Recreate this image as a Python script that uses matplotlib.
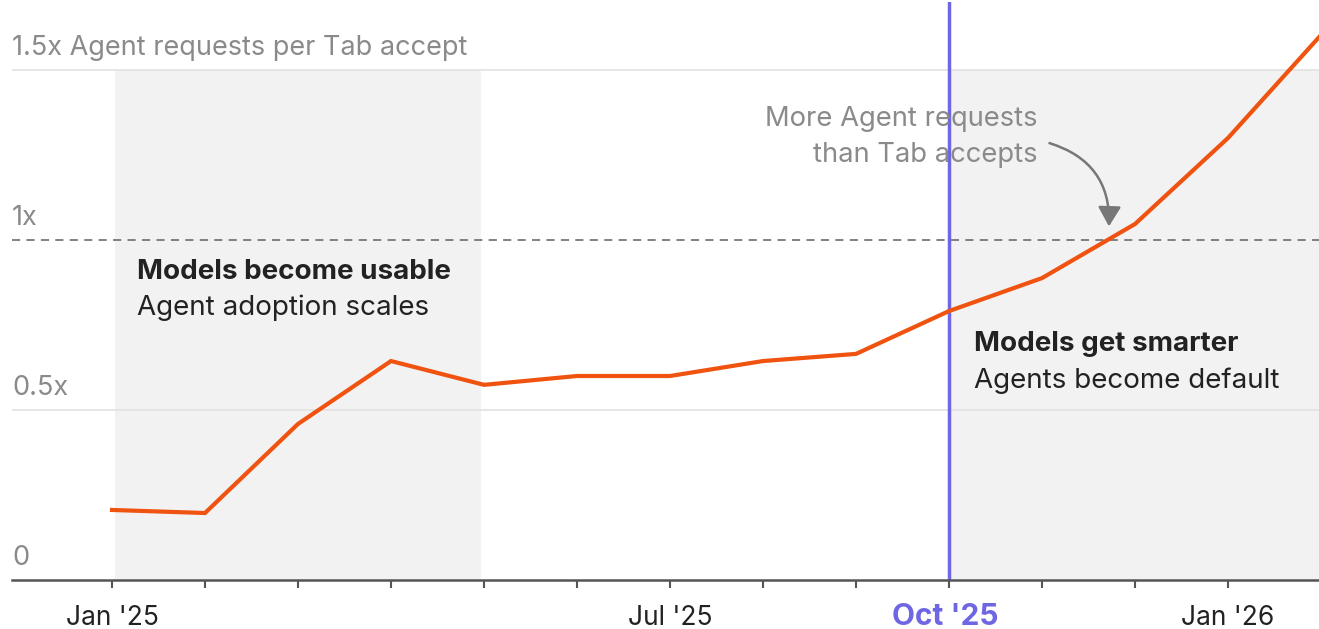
import matplotlib
matplotlib.use("Agg")
import matplotlib.pyplot as plt
from matplotlib.patches import FancyArrowPatch

plt.rcParams['font.family'] = ['Inter', 'DejaVu Sans']

months = ["Jan '25", "Feb '25", "Mar '25", "Apr '25", "May '25", "Jun '25", "Jul '25",
          "Aug '25", "Sep '25", "Oct '25", "Nov '25", "Dec '25", "Jan '26", "Feb '26"]
ratio = [0.206, 0.197, 0.459, 0.644, 0.574, 0.600, 0.600,
         0.644, 0.665, 0.791, 0.888, 1.047, 1.300, 1.603]
tick_labels = {0: "Jan '25", 6: "Jul '25", 12: "Jan '26"}
highlight_label = (9, "Oct '25")
y_labels = {0: "0", 0.5: "0.5x", 1.0: "1x", 1.5: "1.5x Agent requests per Tab accept"}

W, H = 1319, 629
fig = plt.figure(figsize=(W / 100, H / 100), dpi=100)
ax_left, ax_right, ax_top, ax_bottom = 12, 1319, 2, 580
ax = fig.add_axes([ax_left / W, (H - ax_bottom) / H, (ax_right - ax_left) / W, (ax_bottom - ax_top) / H])

x = list(range(len(months)))
px_per_month = 93.0
xmin = -(112 - ax_left) / px_per_month
xmax = (ax_right - 112) / px_per_month
ax.set_xlim(xmin, xmax)
ax.set_ylim(0, 1.7)

# shaded periods
ax.fill_between([0.03, 3.97], 0, 1.5, color='#f2f2f2', lw=0, zorder=0)
ax.fill_between([9, xmax], 0, 1.5, color='#f2f2f2', lw=0, zorder=0)

# gridlines
for yv in (0.5, 1.5):
    ax.axhline(yv, color='#e2e2e2', lw=1.2, zorder=1)
ax.axhline(1.0, color='#777777', lw=1.3, ls=(0, (4.5, 3.5)), zorder=1)

# y labels
for yv, lab in y_labels.items():
    ax.text(xmin, yv + 0.026, lab, ha='left', va='bottom', fontsize=19.5, color='#8a8a8a', zorder=3)

# Oct line
ax.axvline(highlight_label[0], color='#6f66e3', lw=2.5, zorder=2)

# data line
ax.plot(x, ratio, color='#f0520f', lw=3.0, solid_joinstyle='miter', zorder=4, clip_on=True)

# annotations
fs = 20
ax.text(0.27, 0.905, "Models become usable", fontsize=fs, fontweight='bold', color='#222222', va='center', ha='left')
ax.text(0.27, 0.80, "Agent adoption scales", fontsize=fs, color='#222222', va='center', ha='left')
ax.text(9.27, 0.695, "Models get smarter", fontsize=fs, fontweight='bold', color='#222222', va='center', ha='left')
ax.text(9.27, 0.585, "Agents become default", fontsize=fs, color='#222222', va='center', ha='left')
ax.text(9.95, 1.303, "More Agent requests\nthan Tab accepts", fontsize=fs - 0.3, color='#8a8a8a',
        ha='right', va='center', linespacing=1.5)
arrow = FancyArrowPatch((10.08, 1.285), (10.72, 1.04), connectionstyle="arc3,rad=-0.38",
                        arrowstyle='-|>,head_length=6,head_width=3.5', color='#777777', lw=1.8,
                        mutation_scale=2, shrinkA=0, shrinkB=0, zorder=5)
ax.add_patch(arrow)

# axes styling
for s in ('top', 'right', 'left'):
    ax.spines[s].set_visible(False)
ax.spines['bottom'].set_color('#555555')
ax.spines['bottom'].set_linewidth(1.8)
ax.set_yticks([])
ax.set_xticks(x[:13])
ax.set_xticklabels([tick_labels.get(i, "") for i in x[:13]])
ax.tick_params(axis='x', length=6, width=1.5, color='#555555', pad=12, labelsize=19, labelcolor='#222222')
ax.text(highlight_label[0] - 0.045, -0.064, highlight_label[1], transform=ax.get_xaxis_transform(),
        ha='center', va='center', fontsize=21.5, fontweight='bold', color='#6f66e3')

fig.savefig('out.png', dpi=100)
